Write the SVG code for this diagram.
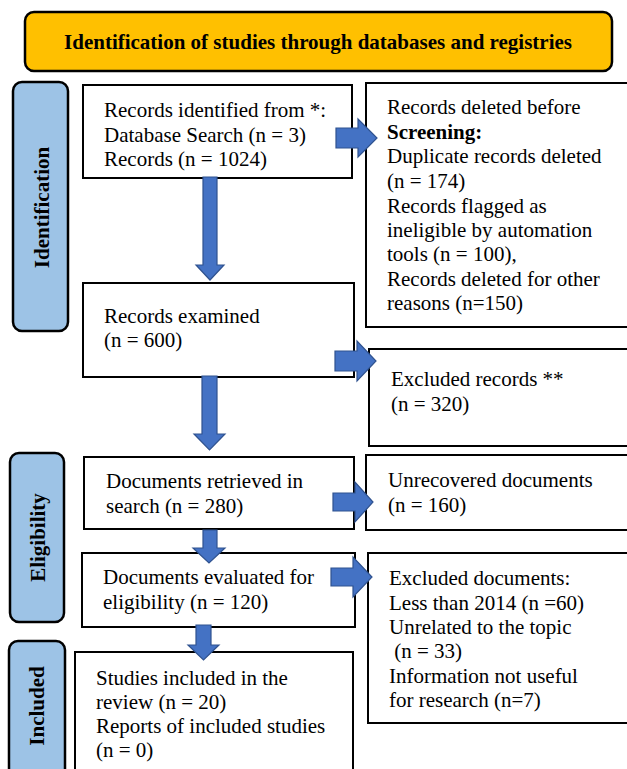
<svg xmlns="http://www.w3.org/2000/svg" width="627" height="769" viewBox="0 0 627 769">
<style>
.box{fill:#fff;stroke:#000;stroke-width:2}
.side{fill:#9DC3E6;stroke:#000;stroke-width:2.5}
.t{font-family:"Liberation Serif","Times New Roman",serif;font-size:21px;fill:#000}
.b{font-weight:bold}
.lab{font-family:"Liberation Serif","Times New Roman",serif;font-size:21px;font-weight:bold;fill:#000;text-anchor:middle}
.arr{fill:#4472C4;stroke:#2F528F;stroke-width:1.2}
</style>
<rect width="627" height="769" fill="#fff"/>
<g id="title">
<rect x="25" y="12" width="587" height="59" rx="9" fill="#FFC000" stroke="#000" stroke-width="2.5"/>
<text x="318" y="49" class="t b" text-anchor="middle">Identification of studies through databases and registries</text>
</g>
<g id="label-identification">
<rect x="13" y="82" width="55" height="249" rx="9" class="side"/>
<text class="lab" transform="translate(49,207.5) rotate(-90)">Identification</text>
</g>
<g id="label-eligibility">
<rect x="10" y="453" width="54" height="169" rx="9" class="side"/>
<text class="lab" transform="translate(45,537.5) rotate(-90)">Eligibility</text>
</g>
<g id="label-included">
<rect x="9" y="641" width="56" height="140" rx="9" class="side"/>
<text class="lab" transform="translate(44,706) rotate(-90)">Included</text>
</g>
<g id="records-identified">
<rect x="83" y="85" width="269" height="93" class="box"/>
<text class="t" x="104" y="117">Records identified from *:</text>
<text class="t" x="104" y="141.5">Database Search (n = 3)</text>
<text class="t" x="104" y="166">Records (n = 1024)</text>
</g>
<g id="records-deleted">
<rect x="366" y="83" width="270" height="244" class="box"/>
<text class="t" x="387" y="114">Records deleted before</text>
<text class="t b" x="387" y="139">Screening:</text>
<text class="t" x="387" y="163">Duplicate records deleted</text>
<text class="t" x="387" y="188">(n = 174)</text>
<text class="t" x="387" y="212.5">Records flagged as</text>
<text class="t" x="387" y="237">ineligible by automation</text>
<text class="t" x="387" y="261">tools (n = 100),</text>
<text class="t" x="387" y="285.5">Records deleted for other</text>
<text class="t" x="387" y="310">reasons (n=150)</text>
</g>
<g id="records-examined">
<rect x="83" y="283" width="271" height="94" class="box"/>
<text class="t" x="104" y="323">Records examined</text>
<text class="t" x="104" y="347">(n = 600)</text>
</g>
<g id="excluded-records">
<rect x="369" y="349" width="267" height="97" class="box"/>
<text class="t" x="391" y="386">Excluded records **</text>
<text class="t" x="391" y="411">(n = 320)</text>
</g>
<g id="documents-retrieved">
<rect x="84" y="457" width="270" height="72" class="box"/>
<text class="t" x="106" y="488">Documents retrieved in</text>
<text class="t" x="106" y="512.5">search (n = 280)</text>
</g>
<g id="unrecovered">
<rect x="366" y="455" width="270" height="75" class="box"/>
<text class="t" x="388" y="487">Unrecovered documents</text>
<text class="t" x="388" y="511.5">(n = 160)</text>
</g>
<g id="documents-evaluated">
<rect x="82" y="553" width="273" height="74" class="box"/>
<text class="t" x="103" y="584">Documents evaluated for</text>
<text class="t" x="103" y="608.5">eligibility (n = 120)</text>
</g>
<g id="excluded-documents">
<rect x="368" y="553" width="268" height="170" class="box"/>
<text class="t" x="389" y="585">Excluded documents:</text>
<text class="t" x="389" y="609.5">Less than 2014 (n =60)</text>
<text class="t" x="389" y="634">Unrelated to the topic</text>
<text class="t" x="389" y="658" xml:space="preserve"> (n = 33)</text>
<text class="t" x="389" y="683">Information not useful</text>
<text class="t" x="389" y="707">for research (n=7)</text>
</g>
<g id="studies-included">
<rect x="75" y="652" width="278" height="130" class="box"/>
<text class="t" x="96" y="685">Studies included in the</text>
<text class="t" x="96" y="709">review (n = 20)</text>
<text class="t" x="96" y="733">Reports of included studies</text>
<text class="t" x="96" y="757">(n = 0)</text>
</g>
<g id="connectors">
<path class="arr" d="M336,128 H358 V119 L377,138 L358,157 V148 H336 Z"/>
<path class="arr" d="M335,351 H357 V341 L376,361 L357,381 V371 H335 Z"/>
<path class="arr" d="M333,493 H355 V482 L373,502 L355,522 V511 H333 Z"/>
<path class="arr" d="M331,568 H353 V557 L372,577 L353,597 V586 H331 Z"/>
<path class="arr" d="M203,177 H217 V265 H224 L210,280 L196,265 H203 Z"/>
<path class="arr" d="M202,376 H217 V434 H225 L209.5,450 L194,434 H202 Z"/>
<path class="arr" d="M203,530 H217 V548 H225 L209,563 L193,548 H203 Z"/>
<path class="arr" d="M196,625 H211 V645 H219 L203.5,660 L188,645 H196 Z"/>
</g>
</svg>
